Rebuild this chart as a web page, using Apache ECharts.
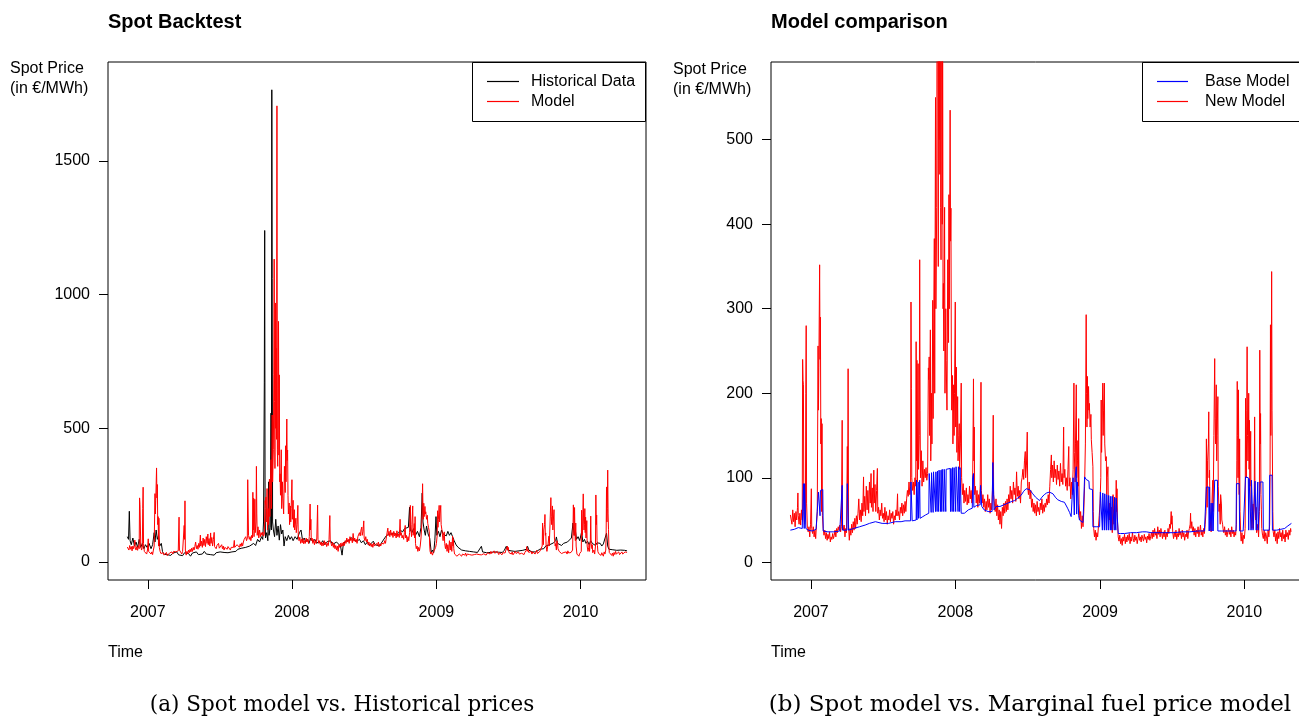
<!DOCTYPE html>
<html>
<head>
<meta charset="utf-8">
<script src="https://cdn.jsdelivr.net/npm/echarts/dist/echarts.min.js"></script>
<style>
html,body{margin:0;padding:0;background:#fff;}
#chart{width:1299px;height:718px;}
</style>
</head>
<body>
<div id="chart"></div>
<script>
// ---- data: [day offset from 2006-11-10, price in EUR/MWh] ----
const originDate = '2006-11-10';
const yearTicks = [2007, 2008, 2009, 2010];
const leftYTicks = [0, 500, 1000, 1500];
const rightYTicks = [0, 100, 200, 300, 400, 500];

const histData = [[0,95],[3,85],[5,190],[7,80],[10,65],[14,90],[18,60],[22,75],[26,55],[30,85],[34,55],[38,70],[42,50],[46,65],[50,55],[55,70],[60,50],[64,65],[68,110],[70,75],[73,120],[76,85],[79,100],[82,60],[86,70],[89,40],[92,30],[95,32],[100,28],[105,35],[110,25],[115,33],[120,28],[125,38],[130,27],[135,30],[140,24],[145,35],[150,28],[155,32],[160,22],[165,34],[170,30],[175,38],[180,28],[185,35],[190,30],[195,40],[200,30],[205,36],[210,28],[215,33],[220,26],[225,35],[230,30],[235,38],[240,32],[245,36],[250,40],[255,35],[260,42],[265,38],[270,45],[275,40],[280,48],[285,45],[290,52],[295,48],[300,55],[305,50],[310,60],[315,55],[320,70],[325,62],[330,85],[335,75],[340,95],[343,85],[345,150],[347,670],[348,1240],[349,200],[350,90],[353,110],[356,80],[358,300],[359,100],[362,130],[364,557],[365,120],[366,1766],[367,1060],[368,150],[370,120],[373,95],[376,160],[379,100],[382,135],[385,82],[388,140],[391,105],[394,120],[397,60],[400,95],[404,80],[408,100],[412,85],[416,95],[420,80],[425,95],[430,85],[436,110],[440,120],[444,80],[448,90],[452,75],[456,85],[460,70],[465,90],[470,75],[475,85],[480,70],[485,78],[490,68],[495,80],[500,65],[505,75],[510,70],[515,80],[520,66],[525,72],[530,75],[535,68],[540,60],[544,26],[547,65],[552,78],[557,85],[562,80],[567,92],[572,84],[577,90],[582,78],[588,85],[593,72],[598,80],[603,65],[608,75],[613,62],[618,70],[623,78],[628,65],[633,72],[638,60],[643,70],[648,75],[652,90],[657,100],[662,95],[667,105],[672,98],[677,108],[682,100],[687,110],[692,120],[697,112],[702,125],[707,118],[712,130],[715,205],[717,120],[721,110],[725,125],[730,100],[735,115],[740,95],[744,130],[747,258],[749,150],[752,120],[755,100],[758,135],[762,105],[766,90],[770,35],[773,45],[776,34],[779,80],[782,170],[784,100],[788,115],[792,95],[796,120],[800,105],[804,110],[808,98],[812,115],[816,100],[820,110],[824,95],[828,80],[833,64],[838,55],[842,50],[847,45],[852,48],[857,42],[862,46],[867,40],[872,44],[877,38],[882,42],[887,36],[892,40],[897,59],[900,38],[905,42],[910,35],[915,40],[920,36],[925,42],[930,38],[935,45],[940,37],[945,42],[950,36],[955,44],[960,59],[963,45],[967,38],[972,42],[977,36],[982,40],[987,35],[992,42],[997,38],[1002,44],[1007,40],[1011,48],[1014,59],[1017,45],[1021,40],[1025,38],[1030,42],[1035,38],[1040,44],[1045,48],[1050,55],[1055,50],[1060,60],[1065,55],[1070,65],[1075,60],[1080,72],[1085,80],[1087,94],[1090,70],[1095,75],[1100,62],[1105,70],[1110,65],[1115,75],[1120,68],[1125,90],[1129,146],[1132,100],[1135,120],[1138,85],[1142,95],[1146,80],[1151,113],[1154,75],[1158,85],[1162,70],[1166,78],[1170,65],[1174,80],[1178,70],[1182,75],[1186,62],[1190,72],[1194,65],[1198,70],[1202,60],[1206,68],[1210,75],[1214,108],[1217,60],[1220,48],[1225,42],[1230,46],[1235,40],[1240,44],[1245,38],[1250,45],[1255,40],[1260,44],[1266,42]];

const modelData = [[0,56],[2,55],[4,45],[6,62],[8,48],[10,58],[12,42],[14,60],[16,50],[18,65],[19,82],[20,55],[22,45],[24,58],[26,44],[28,62],[30,50],[31,240],[32,215],[33,210],[34,60],[36,45],[38,55],[39,200],[40,280],[41,70],[43,40],[45,36],[47,42],[49,30],[51,45],[53,87],[54,40],[56,34],[58,42],[60,30],[62,38],[64,28],[66,45],[68,60],[70,256],[71,180],[72,230],[74,352],[75,240],[76,290],[77,140],[78,170],[79,60],[80,164],[81,55],[83,40],[85,32],[87,38],[89,28],[91,35],[93,26],[95,33],[97,28],[99,36],[101,24],[103,30],[105,27],[107,34],[109,28],[111,32],[113,38],[115,30],[117,40],[119,35],[121,42],[123,38],[125,44],[127,36],[129,42],[131,168],[132,45],[134,38],[136,44],[138,30],[140,40],[142,35],[144,137],[145,85],[146,229],[147,45],[149,26],[151,40],[153,32],[155,45],[157,35],[159,48],[161,38],[163,52],[165,40],[167,55],[169,45],[171,58],[173,75],[175,50],[177,62],[179,48],[181,70],[183,55],[185,101],[186,60],[188,78],[190,55],[192,90],[194,62],[196,85],[198,58],[200,95],[202,70],[204,105],[205,65],[207,88],[209,60],[211,109],[212,70],[214,92],[216,60],[218,85],[220,111],[221,58],[223,65],[225,50],[227,62],[229,55],[231,70],[233,52],[235,58],[237,48],[239,65],[241,50],[243,60],[245,45],[247,55],[249,50],[251,62],[253,48],[255,58],[257,52],[259,60],[261,45],[263,55],[265,50],[267,62],[269,55],[271,81],[272,55],[274,60],[276,50],[278,65],[280,58],[282,70],[284,55],[286,68],[288,58],[290,72],[292,60],[294,75],[296,85],[298,78],[300,95],[302,80],[304,90],[305,308],[306,206],[307,100],[309,85],[311,95],[313,80],[315,100],[317,90],[318,261],[319,120],[320,239],[321,95],[323,235],[324,110],[326,150],[327,358],[328,180],[329,100],[331,132],[333,90],[335,120],[337,95],[339,110],[341,100],[343,112],[345,97],[347,105],[349,230],[350,216],[351,243],[352,150],[354,275],[355,120],[357,200],[358,140],[360,310],[361,170],[362,250],[364,383],[365,200],[367,550],[368,300],[370,420],[371,700],[372,1133],[373,600],[374,350],[375,969],[376,500],[377,800],[378,459],[379,1706],[380,420],[381,358],[382,650],[383,900],[384,400],[385,700],[386,300],[387,330],[388,250],[390,420],[391,200],[393,300],[394,239],[396,180],[398,358],[400,260],[401,435],[402,300],[404,535],[405,380],[406,419],[407,250],[408,180],[410,221],[411,140],[413,210],[414,150],[415,200],[417,308],[418,160],[420,231],[421,130],[423,196],[424,120],[426,150],[427,164],[428,110],[430,140],[432,212],[433,100],[435,80],[437,93],[439,70],[441,85],[443,72],[445,88],[447,68],[449,80],[451,70],[453,90],[455,75],[457,85],[459,70],[461,95],[463,217],[464,120],[465,160],[466,80],[468,90],[470,70],[472,85],[474,65],[476,80],[478,70],[480,90],[482,213],[483,85],[485,70],[487,80],[489,65],[491,75],[493,60],[495,72],[497,62],[499,80],[501,65],[503,75],[505,58],[507,70],[509,62],[511,85],[513,174],[514,80],[516,70],[518,60],[520,75],[522,55],[524,68],[526,50],[528,62],[530,45],[532,60],[534,40],[536,65],[538,55],[540,70],[542,58],[544,72],[546,60],[548,75],[550,62],[552,80],[554,70],[556,90],[558,75],[560,85],[562,70],[564,95],[566,80],[568,88],[570,72],[572,107],[574,78],[576,90],[578,75],[580,85],[582,70],[584,95],[586,100],[588,110],[590,98],[592,120],[594,131],[595,100],[597,115],[599,154],[600,90],[602,80],[604,95],[606,75],[608,85],[610,65],[612,75],[614,60],[616,70],[618,58],[620,68],[622,55],[624,72],[626,60],[628,65],[630,56],[632,70],[634,62],[636,75],[638,58],[640,68],[642,60],[644,70],[646,65],[648,75],[650,68],[652,80],[654,70],[656,90],[658,110],[660,127],[661,100],[663,115],[665,95],[667,120],[669,100],[671,110],[673,92],[675,115],[677,98],[679,108],[681,90],[683,117],[685,95],[687,105],[689,92],[691,160],[692,100],[694,110],[696,90],[698,100],[700,85],[702,110],[704,137],[705,90],[707,100],[709,75],[711,95],[713,80],[715,110],[717,212],[718,130],[720,95],[721,140],[723,210],[724,100],[726,120],[727,144],[728,90],[729,170],[730,70],[732,50],[734,60],[736,40],[738,55],[740,42],[742,60],[744,90],[746,140],[748,293],[749,200],[750,160],[751,220],[752,170],[754,208],[755,180],[756,188],[758,160],[760,175],[761,145],[763,130],[765,113],[766,60],[767,40],[769,30],[771,38],[773,26],[775,35],[777,30],[779,42],[781,55],[783,70],[785,100],[786,192],[787,130],[788,160],[790,212],[791,150],[792,180],[794,212],[795,140],[797,120],[799,125],[800,80],[801,100],[803,113],[804,70],[806,50],[808,70],[810,40],[812,65],[814,35],[816,80],[818,45],[820,75],[822,40],[824,97],[825,60],[826,87],[827,50],[829,30],[831,25],[833,32],[835,22],[837,28],[839,20],[841,30],[843,25],[845,33],[847,22],[849,30],[851,24],[853,32],[855,26],[857,34],[859,22],[861,30],[863,25],[865,35],[867,28],[869,24],[871,32],[873,26],[875,30],[877,22],[879,28],[881,34],[883,26],[885,30],[887,24],[889,32],[891,28],[893,25],[895,33],[897,27],[899,30],[901,23],[903,31],[905,27],[907,34],[909,26],[911,30],[913,35],[915,28],[917,38],[919,30],[921,40],[923,32],[925,36],[927,28],[929,42],[931,33],[933,38],[935,30],[937,40],[939,34],[941,28],[943,36],[945,30],[947,38],[949,27],[951,35],[953,30],[955,40],[957,34],[959,45],[961,40],[963,60],[964,45],[965,55],[967,35],[969,28],[971,36],[973,30],[975,38],[977,27],[979,34],[981,30],[983,40],[985,32],[987,36],[989,28],[991,38],[993,30],[995,35],[997,26],[999,33],[1001,30],[1003,38],[1005,28],[1007,36],[1009,40],[1011,45],[1012,58],[1013,40],[1015,48],[1017,36],[1019,42],[1021,32],[1023,40],[1025,30],[1027,38],[1029,34],[1031,42],[1033,30],[1035,36],[1037,44],[1039,32],[1041,38],[1043,30],[1045,40],[1047,34],[1049,45],[1051,60],[1052,146],[1053,90],[1054,65],[1055,120],[1057,140],[1058,178],[1059,100],[1060,109],[1061,60],[1063,40],[1064,36],[1066,70],[1068,97],[1069,60],[1071,150],[1073,241],[1074,170],[1075,140],[1077,210],[1078,120],[1079,150],[1081,196],[1082,90],[1084,60],[1085,69],[1087,45],[1088,80],[1090,69],[1091,50],[1093,45],[1094,40],[1096,35],[1098,42],[1100,32],[1102,38],[1104,30],[1106,36],[1108,40],[1110,33],[1112,38],[1114,30],[1116,42],[1118,34],[1120,38],[1122,30],[1124,36],[1126,32],[1128,45],[1129,120],[1130,214],[1131,150],[1132,100],[1133,204],[1134,110],[1135,80],[1136,146],[1137,60],[1139,30],[1140,25],[1142,35],[1144,22],[1146,32],[1148,28],[1150,40],[1151,194],[1152,120],[1153,100],[1154,180],[1155,255],[1156,150],[1157,120],[1158,140],[1159,200],[1160,110],[1161,168],[1162,90],[1164,155],[1165,60],[1167,40],[1169,55],[1170,69],[1171,40],[1173,80],[1174,172],[1175,70],[1177,50],[1178,65],[1179,35],[1181,40],[1182,45],[1184,30],[1186,60],[1187,251],[1188,140],[1189,176],[1190,80],[1191,62],[1192,40],[1194,32],[1196,28],[1198,38],[1200,25],[1202,35],[1204,30],[1206,22],[1208,38],[1210,30],[1212,45],[1213,100],[1214,281],[1215,150],[1216,200],[1217,344],[1218,180],[1219,121],[1220,60],[1221,36],[1223,30],[1225,38],[1227,25],[1229,34],[1231,22],[1233,36],[1235,28],[1237,40],[1239,30],[1241,35],[1243,25],[1245,38],[1247,28],[1249,33],[1251,24],[1253,38],[1255,30],[1257,35],[1259,27],[1261,38],[1263,32],[1265,40],[1266,36]];

const baseData = [[0,38],[10,39],[20,41],[30,40],[32,40],[33,93],[34,93],[35,40],[36,93],[38,93],[39,40],[45,38],[55,37],[65,39],[70,40],[71,83],[74,84],[75,55],[76,85],[82,86],[83,37],[95,36],[110,36],[125,37],[130,37],[131,91],[132,38],[143,38],[144,93],[146,93],[147,38],[160,40],[175,42],[189,44],[200,46],[215,48],[232,46],[248,46],[265,48],[280,48],[290,49],[304,49],[305,95],[307,95],[308,49],[318,50],[319,97],[320,50],[322,50],[323,95],[324,52],[326,52],[327,97],[328,52],[335,54],[342,56],[347,57],[350,58],[351,105],[355,106],[356,59],[357,106],[360,106],[361,59],[362,107],[366,107],[367,60],[368,107],[370,108],[371,60],[372,108],[374,108],[375,60],[376,109],[379,109],[380,60],[381,109],[382,110],[383,60],[384,110],[387,110],[388,60],[389,110],[392,110],[393,60],[394,110],[404,111],[405,60],[406,111],[408,111],[409,60],[410,112],[412,112],[413,60],[414,112],[417,113],[418,60],[419,113],[423,113],[424,60],[425,113],[427,113],[428,60],[429,112],[431,112],[432,58],[436,57],[440,58],[445,58],[450,62],[455,63],[460,64],[461,100],[463,105],[464,65],[466,66],[470,67],[475,68],[480,68],[481,91],[483,91],[484,66],[490,62],[495,60],[500,60],[505,59],[510,60],[512,118],[514,118],[515,62],[520,66],[525,67],[530,66],[533,65],[540,68],[550,70],[560,72],[567,73],[575,76],[583,79],[590,84],[596,87],[600,88],[605,86],[613,81],[620,77],[630,73],[636,77],[642,80],[648,82],[655,83],[664,81],[670,77],[676,74],[685,72],[693,71],[701,64],[706,59],[710,54],[714,55],[715,100],[717,100],[718,56],[720,100],[723,113],[724,57],[726,95],[728,95],[729,55],[731,50],[735,48],[740,47],[743,48],[744,101],[748,98],[752,97],[755,96],[756,87],[760,87],[764,86],[765,42],[770,42],[775,42],[782,42],[784,83],[788,83],[789,38],[790,82],[793,82],[794,38],[795,81],[798,80],[799,38],[800,80],[803,80],[804,38],[805,79],[808,79],[809,38],[810,78],[812,78],[813,38],[814,78],[818,77],[819,38],[820,77],[822,77],[823,38],[824,76],[828,76],[829,34],[835,34],[845,34],[860,35],[875,35],[890,36],[900,36],[912,35],[930,35],[950,35],[970,35],[990,36],[1010,36],[1030,37],[1047,37],[1051,37],[1052,89],[1058,89],[1059,37],[1060,89],[1061,37],[1063,37],[1064,70],[1066,37],[1068,70],[1069,37],[1072,37],[1073,97],[1080,97],[1081,37],[1090,37],[1100,37],[1110,37],[1127,37],[1128,93],[1135,93],[1136,37],[1145,37],[1150,37],[1151,101],[1158,100],[1159,38],[1160,99],[1164,98],[1165,38],[1166,97],[1169,97],[1170,38],[1174,38],[1175,96],[1177,96],[1178,38],[1181,38],[1182,95],[1183,38],[1187,38],[1188,95],[1195,95],[1196,38],[1205,38],[1211,38],[1212,103],[1218,103],[1219,38],[1230,38],[1240,39],[1250,40],[1258,43],[1267,46]];

// ---- helpers ----
const DAY = 86400000;
const ORIGIN = Date.parse(originDate + 'T00:00:00Z');
const toTime = arr => arr.map(p => [ORIGIN + p[0] * DAY, p[1]]);
const yearMs = yearTicks.map(y => Date.UTC(y, 0, 1));
const xMin = ORIGIN - 49 * DAY;
const xMax = ORIGIN + 1314 * DAY;
const FONT = '"Liberation Sans", Arial, sans-serif';
const COLORS = { 'Historical Data': '#000000', 'Model': '#ff0000', 'Base Model': '#0000ff', 'New Model': '#ff0000' };

function xAxisCfg(gi) {
  return {
    type: 'value', gridIndex: gi, min: xMin, max: xMax,
    axisLine: { show: false, onZero: false },
    axisTick: { show: true, length: 9, customValues: yearMs, lineStyle: { color: '#000', width: 1 } },
    axisLabel: { customValues: yearMs, margin: 25, fontSize: 16, color: '#000', fontFamily: FONT,
      formatter: v => String(new Date(v).getUTCFullYear()) },
    splitLine: { show: false }
  };
}
function yAxisCfg(gi, min, max, ticks) {
  return {
    type: 'value', gridIndex: gi, min: min, max: max,
    axisLine: { show: false, onZero: false },
    axisTick: { show: true, length: 9, customValues: ticks, lineStyle: { color: '#000', width: 1 } },
    axisLabel: { customValues: ticks, margin: 18, fontSize: 16, color: '#000', fontFamily: FONT,
      formatter: v => String(v) },
    splitLine: { show: false }
  };
}
function lineSeries(name, data, xi, z) {
  const color = COLORS[name];
  return {
    name: name, type: 'line', xAxisIndex: xi, yAxisIndex: xi,
    data: toTime(data), color: color, symbol: 'none', showSymbol: false,
    lineStyle: { width: 1, color: color }, itemStyle: { color: color }, silent: true, clip: true, z: z,
    animation: false
  };
}
function legendItems(names) {
  return names.map(n => ({ name: n, icon: 'rect', itemStyle: { color: COLORS[n], borderWidth: 0 } }));
}

const chart = echarts.init(document.getElementById('chart'), null, { renderer: 'canvas' });
chart.setOption({
  animation: false,
  backgroundColor: '#fff',
  title: [
    { text: 'Spot Backtest', left: 108, top: 12, padding: 0,
      textStyle: { fontSize: 20, fontWeight: 'bold', fontFamily: FONT, color: '#000', lineHeight: 20 } },
    { text: 'Model comparison', left: 771, top: 12, padding: 0,
      textStyle: { fontSize: 20, fontWeight: 'bold', fontFamily: FONT, color: '#000', lineHeight: 20 } }
  ],
  grid: [
    { left: 108, top: 62, width: 538, height: 518, show: true, borderColor: '#000', borderWidth: 1,
      backgroundColor: 'transparent', containLabel: false, outerBoundsMode: 'none' },
    { left: 771, top: 62, width: 539, height: 518, show: true, borderColor: '#000', borderWidth: 1,
      backgroundColor: 'transparent', containLabel: false, outerBoundsMode: 'none' }
  ],
  xAxis: [xAxisCfg(0), xAxisCfg(1)],
  yAxis: [yAxisCfg(0, -67, 1870, leftYTicks), yAxisCfg(1, -21, 592, rightYTicks)],
  legend: [
    { orient: 'vertical', left: 487, top: 71.5, padding: 0, itemGap: 0, itemWidth: 32, itemHeight: 1.2, z: 10,
      data: legendItems(['Historical Data', 'Model']), selectedMode: false,
      textStyle: { fontSize: 16, lineHeight: 20, color: '#000', fontFamily: FONT, padding: [0, 0, 0, 7] } },
    { orient: 'vertical', left: 1157, top: 71.5, padding: 0, itemGap: 0, itemWidth: 31, itemHeight: 1.2, z: 10,
      data: legendItems(['Base Model', 'New Model']), selectedMode: false,
      textStyle: { fontSize: 16, lineHeight: 20, color: '#000', fontFamily: FONT, padding: [0, 0, 0, 12] } }
  ],
  graphic: [
    { type: 'rect', silent: true, z: 1, shape: { x: 472.5, y: 62.5, width: 173, height: 59 },
      style: { fill: 'none', stroke: '#000', lineWidth: 1 } },
    { type: 'rect', silent: true, z: 1, shape: { x: 1142.5, y: 62.5, width: 200, height: 59 },
      style: { fill: 'none', stroke: '#000', lineWidth: 1 } },
    { type: 'text', silent: true, x: 10, y: 59,
      style: { text: 'Spot Price\n(in €/MWh)', fontSize: 16, fontFamily: FONT, fill: '#000', lineHeight: 20, align: 'left', verticalAlign: 'top' } },
    { type: 'text', silent: true, x: 673, y: 60,
      style: { text: 'Spot Price\n(in €/MWh)', fontSize: 16, fontFamily: FONT, fill: '#000', lineHeight: 20, align: 'left', verticalAlign: 'top' } },
    { type: 'text', silent: true, x: 108, y: 653,
      style: { text: 'Time', fontSize: 16, fontFamily: FONT, fill: '#000', align: 'left', verticalAlign: 'middle' } },
    { type: 'text', silent: true, x: 771, y: 653,
      style: { text: 'Time', fontSize: 16, fontFamily: FONT, fill: '#000', align: 'left', verticalAlign: 'middle' } },
    { type: 'text', silent: true, x: 342, y: 705,
      style: { text: '(a) Spot model vs. Historical prices', fontSize: 21.5, fontFamily: '"DejaVu Serif", serif', fill: '#000', align: 'center', verticalAlign: 'middle' } },
    { type: 'text', silent: true, x: 1030, y: 705,
      style: { text: '(b) Spot model vs. Marginal fuel price model', fontSize: 23, fontFamily: '"DejaVu Serif", serif', fill: '#000', align: 'center', verticalAlign: 'middle' } }
  ],
  series: [
    lineSeries('Historical Data', histData, 0, 2),
    lineSeries('Model', modelData, 0, 3),
    lineSeries('New Model', modelData, 1, 2),
    lineSeries('Base Model', baseData, 1, 3)
  ]
});
</script>
</body>
</html>
